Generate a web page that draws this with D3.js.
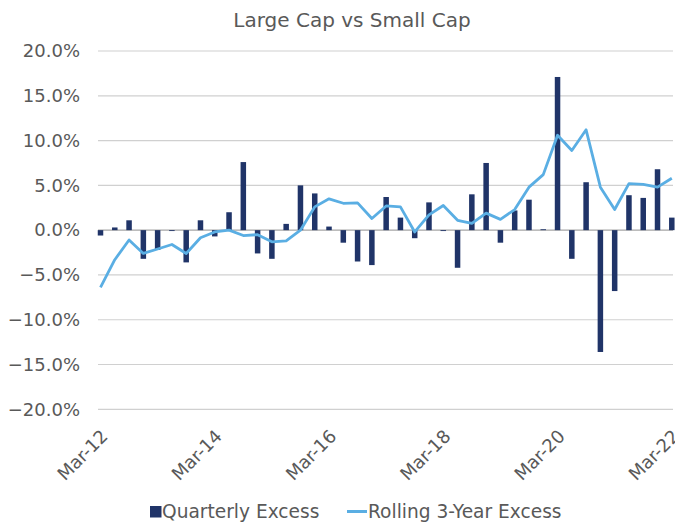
<!DOCTYPE html>
<html>
<head>
<meta charset="utf-8">
<script src="https://cdn.jsdelivr.net/npm/d3@7/dist/d3.min.js"></script>
<style>
  html, body { margin: 0; padding: 0; background: #fff; }
  svg { display: block; }
  text { font-family: "DejaVu Sans", Verdana, sans-serif; }
</style>
</head>
<body>
<svg id="chart" width="675" height="524"></svg>
<script>
const categories = [
  "Mar-12","Jun-12","Sep-12","Dec-12","Mar-13","Jun-13","Sep-13","Dec-13",
  "Mar-14","Jun-14","Sep-14","Dec-14","Mar-15","Jun-15","Sep-15","Dec-15",
  "Mar-16","Jun-16","Sep-16","Dec-16","Mar-17","Jun-17","Sep-17","Dec-17",
  "Mar-18","Jun-18","Sep-18","Dec-18","Mar-19","Jun-19","Sep-19","Dec-19",
  "Mar-20","Jun-20","Sep-20","Dec-20","Mar-21","Jun-21","Sep-21","Dec-21",
  "Mar-22"
];
const quarterlyExcess = [
  -0.6, 0.3, 1.1, -3.2, -2.2, -0.1, -3.6, 1.1,
  -0.7, 2.0, 7.6, -2.6, -3.2, 0.7, 5.0, 4.1,
  0.4, -1.4, -3.5, -3.9, 3.7, 1.4, -0.9, 3.1,
  -0.1, -4.2, 4.0, 7.5, -1.4, 2.2, 3.4, 0.1,
  17.1, -3.2, 5.35, -13.6, -6.8, 3.9, 3.6, 6.8,
  1.4
];
const rolling3YearExcess = [
  -6.4, -3.3, -1.1, -2.6, -2.1, -1.6, -2.6, -0.85,
  -0.2, 0.0, -0.6, -0.5, -1.3, -1.2, 0.0, 2.6,
  3.5, 3.0, 3.05, 1.3, 2.7, 2.6, -0.2, 1.7,
  2.75, 1.1, 0.75, 1.9, 1.2, 2.3, 4.8, 6.2,
  10.6, 8.9, 11.2, 4.8, 2.3, 5.2, 5.1, 4.8,
  5.8
];
const yTicks = [20, 15, 10, 5, 0, -5, -10, -15, -20];
const xTickLabels = ["Mar-12","Mar-14","Mar-16","Mar-18","Mar-20","Mar-22"];
const seriesNames = ["Quarterly Excess", "Rolling 3-Year Excess"];
const title = "Large Cap vs Small Cap";

const barColor = "#203468";
const lineColor = "#5AAEE3";
const textColor = "#595959";
const gridColor = "#D0D0D0";

const svg = d3.select("#chart");

const x = d3.scalePoint().domain(d3.range(categories.length)).range([100.5, 671.8]);
const y = d3.scaleLinear().domain([-20, 20]).range([409.3, 51]);
const plotLeft = 98, plotRight = 673;

// title
svg.append("text")
  .attr("x", 352).attr("y", 27)
  .attr("text-anchor", "middle")
  .attr("font-size", 20)
  .attr("fill", textColor)
  .text(title);

// gridlines
svg.append("g").selectAll("line").data(yTicks).join("line")
  .attr("x1", plotLeft).attr("x2", plotRight)
  .attr("y1", d => y(d)).attr("y2", d => y(d))
  .attr("stroke", d => d === 0 ? "#A6A6A6" : gridColor)
  .attr("stroke-width", 1.2);

// y axis labels
const yAxis = d3.axisLeft(y).tickValues(yTicks).tickSize(0).tickPadding(0)
  .tickFormat(d => d3.format(".1f")(d) + "%");
const yg = svg.append("g").attr("transform", "translate(80,0)").call(yAxis);
yg.select(".domain").remove();
yg.selectAll("text").attr("font-size", 18).attr("fill", textColor)
  .attr("font-family", "DejaVu Sans, Verdana, sans-serif");

// bars
const bw = 5.5;
svg.append("g").selectAll("rect").data(quarterlyExcess).join("rect")
  .attr("x", (d, i) => x(i) - bw / 2)
  .attr("width", bw)
  .attr("y", d => y(Math.max(0, d)))
  .attr("height", d => Math.abs(y(d) - y(0)))
  .attr("fill", barColor);

// line
const line = d3.line().x((d, i) => x(i)).y(d => y(d));
svg.append("path").datum(rolling3YearExcess)
  .attr("d", line)
  .attr("fill", "none")
  .attr("stroke", lineColor)
  .attr("stroke-width", 2.8)
  .attr("stroke-linejoin", "round");

// x labels
const xg = svg.append("g");
xTickLabels.forEach(lbl => {
  const i = categories.indexOf(lbl);
  xg.append("text")
    .attr("transform", `translate(${x(i) + 4},${433}) rotate(-45)`)
    .attr("text-anchor", "end")
    .attr("dy", "0.35em")
    .attr("font-size", 18)
    .attr("fill", textColor)
    .text(lbl);
});

// legend
const lg = svg.append("g");
lg.append("rect").attr("x", 150).attr("y", 506).attr("width", 11.5).attr("height", 11.5).attr("fill", barColor);
lg.append("text").attr("x", 162).attr("y", 518).attr("font-size", 18.6).attr("fill", textColor).text(seriesNames[0]);
lg.append("line").attr("x1", 347).attr("x2", 367).attr("y1", 511.5).attr("y2", 511.5)
  .attr("stroke", lineColor).attr("stroke-width", 3);
lg.append("text").attr("x", 368).attr("y", 518).attr("font-size", 18.6).attr("fill", textColor).text(seriesNames[1]);
</script>
</body>
</html>
